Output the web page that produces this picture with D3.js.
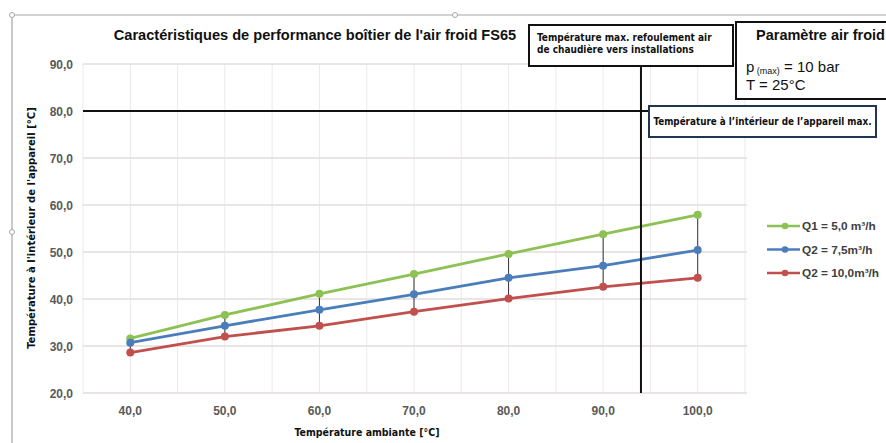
<!DOCTYPE html>
<html><head><meta charset="utf-8">
<script src="https://cdn.jsdelivr.net/npm/d3@7"></script>
<style>
body{margin:0;background:#fff;}
svg{display:block;}
.narrow{font-family:"Liberation Sans Narrow","Arial Narrow","DejaVu Sans Condensed",sans-serif;}
</style></head>
<body>
<svg id="c" width="886" height="443"></svg>
<script>
const categories = [40, 50, 60, 70, 80, 90, 100];
const seriesNames = ["Q1 = 5,0 m³/h", "Q2 = 7,5m³/h", "Q2 = 10,0m³/h"];
const q1Values = [31.6, 36.6, 41.1, 45.3, 49.6, 53.8, 57.9];
const q2Values = [30.7, 34.3, 37.7, 41.0, 44.5, 47.1, 50.4];
const q3Values = [28.6, 32.0, 34.3, 37.3, 40.1, 42.6, 44.5];
const seriesColors = ["#8dc154", "#4a7ebb", "#c0504d"];
const yTicks = [20, 30, 40, 50, 60, 70, 80, 90];
const maxInnerTemp = 80;
const maxOutletTemp = 94;
const titleText = "Caractéristiques de performance boîtier de l'air froid FS65";
const xTitle = "Température ambiante [°C]";
const yTitle = "Température à l'intérieur de l'appareil [°C]";

const fmt = v => v.toFixed(1).replace(".", ",");
const svg = d3.select("#c");
const L = 83, R = 745, T = 64, B = 393;
const x = d3.scaleLinear().domain([35, 105]).range([L, R]);
const y = d3.scaleLinear().domain([20, 90]).range([B, T]);
const SANS = "Liberation Sans, Arial, sans-serif";

// chart frame (partially visible)
svg.append("path").attr("d", "M12,15 H886 M12,15 V443").attr("stroke", "#a6a6a6").attr("stroke-width", 1.2).attr("fill", "none");
[[12,15],[455,15],[12,232]].forEach(p => svg.append("circle").attr("cx", p[0]).attr("cy", p[1]).attr("r", 2.5).attr("fill", "#fff").attr("stroke", "#a6a6a6"));

// gridlines
const g = svg.append("g");
const vgrid = d3.range(35, 106, 5);
g.selectAll(".vg").data(vgrid).join("line").attr("x1", d => x(d)).attr("x2", d => x(d)).attr("y1", T).attr("y2", B).attr("stroke", "#ece9e9").attr("stroke-width", 1);
g.selectAll(".hg").data(yTicks).join("line").attr("x1", L).attr("x2", R + 2).attr("y1", d => y(d)).attr("y2", d => y(d)).attr("stroke", "#e3dcdc").attr("stroke-width", 1.3);

// y axis labels
svg.append("g").selectAll("text").data(yTicks).join("text")
  .attr("x", 73).attr("y", d => y(d) + 4.5).attr("text-anchor", "end")
  .attr("font-family", SANS).attr("font-weight", "bold").attr("font-size", 12).attr("fill", "#595959")
  .text(fmt);
// x axis labels
svg.append("g").selectAll("text").data(categories).join("text")
  .attr("x", d => x(d)).attr("y", 415).attr("text-anchor", "middle")
  .attr("font-family", SANS).attr("font-weight", "bold").attr("font-size", 12).attr("fill", "#595959")
  .text(fmt);

// high-low lines
const all = [q1Values, q2Values, q3Values];
svg.append("g").selectAll("line").data(categories).join("line")
  .attr("x1", d => x(d)).attr("x2", d => x(d))
  .attr("y1", (d, i) => y(d3.max(all, s => s[i]))).attr("y2", (d, i) => y(d3.min(all, s => s[i])))
  .attr("stroke", "#333").attr("stroke-width", 1);

// series
const line = d3.line().x((d, i) => x(categories[i])).y(d => y(d));
all.forEach((s, k) => {
  svg.append("path").attr("d", line(s)).attr("fill", "none").attr("stroke", seriesColors[k]).attr("stroke-width", 2.8);
  svg.append("g").selectAll("circle").data(s).join("circle")
    .attr("cx", (d, i) => x(categories[i])).attr("cy", d => y(d)).attr("r", 4).attr("fill", seriesColors[k]);
});

// reference lines
svg.append("line").attr("x1", L).attr("x2", 650).attr("y1", y(maxInnerTemp)).attr("y2", y(maxInnerTemp)).attr("stroke", "#111").attr("stroke-width", 2);
svg.append("line").attr("x1", x(maxOutletTemp)).attr("x2", x(maxOutletTemp)).attr("y1", 66).attr("y2", B).attr("stroke", "#111").attr("stroke-width", 2);

// title
svg.append("text").attr("x", 315).attr("y", 40).attr("text-anchor", "middle")
  .attr("font-family", SANS).attr("font-weight", "bold").attr("font-size", 14.6).attr("fill", "#111")
  .text(titleText);

// axis titles
svg.append("text").attr("class", "narrow").attr("x", 367).attr("y", 436).attr("text-anchor", "middle")
  .attr("font-weight", "bold").attr("font-size", 10.5).attr("fill", "#111").text(xTitle);
svg.append("text").attr("class", "narrow").attr("transform", "translate(35,228) rotate(-90)").attr("text-anchor", "middle")
  .attr("font-weight", "bold").attr("font-size", 11.2).attr("fill", "#111").text(yTitle);

// legend
const lg = svg.append("g");
seriesNames.forEach((n, k) => {
  const ly = 226 + k * 23.5;
  lg.append("line").attr("x1", 767).attr("x2", 800).attr("y1", ly).attr("y2", ly).attr("stroke", seriesColors[k]).attr("stroke-width", 2.6);
  lg.append("circle").attr("cx", 785).attr("cy", ly).attr("r", 3.3).attr("fill", seriesColors[k]);
  lg.append("text").attr("x", 802).attr("y", ly + 4).attr("font-family", SANS).attr("font-weight", "bold")
    .attr("font-size", 11.8).attr("fill", "#404040").text(n);
});

// annotation box 1
svg.append("rect").attr("x", 529).attr("y", 25).attr("width", 204).attr("height", 41).attr("fill", "#fff").attr("stroke", "#111").attr("stroke-width", 2);
const t1 = svg.append("text").attr("class", "narrow").attr("font-weight", "bold").attr("font-size", 10).attr("fill", "#111");
t1.append("tspan").attr("x", 537).attr("y", 41).text("Température max. refoulement air");
t1.append("tspan").attr("x", 537).attr("y", 53).text("de chaudière vers installations");

// annotation box 2
svg.append("rect").attr("x", 736).attr("y", 22).attr("width", 160).attr("height", 77).attr("fill", "#fff").attr("stroke", "#111").attr("stroke-width", 2);
svg.append("text").attr("x", 756).attr("y", 40).attr("font-family", SANS).attr("font-weight", "bold").attr("font-size", 14.5).attr("fill", "#111").text("Paramètre air froid");
const t2 = svg.append("text").attr("font-family", SANS).attr("font-size", 15).attr("fill", "#111");
t2.append("tspan").attr("x", 746).attr("y", 72).text("p");
t2.append("tspan").attr("font-size", 9).attr("dy", 2).text(" (max)");
t2.append("tspan").attr("dy", -2).text(" = 10 bar");
svg.append("text").attr("x", 746).attr("y", 90).attr("font-family", SANS).attr("font-size", 15).attr("fill", "#111").text("T = 25°C");

// annotation box 3
svg.append("rect").attr("x", 649).attr("y", 106).attr("width", 227).attr("height", 31).attr("fill", "#fff").attr("stroke", "#1f3553").attr("stroke-width", 2);
svg.append("text").attr("class", "narrow").attr("x", 762.5).attr("y", 125).attr("text-anchor", "middle").attr("font-weight", "bold").attr("font-size", 9.8).attr("fill", "#111")
  .text("Température à l’intérieur de l’appareil max.");
</script>
</body></html>
